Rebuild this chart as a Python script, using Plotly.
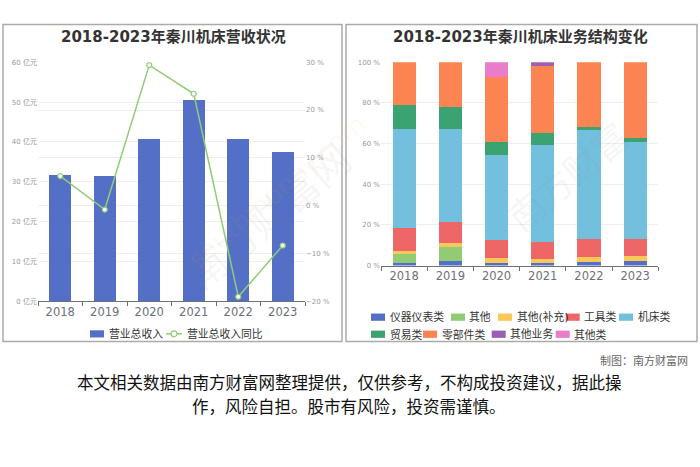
import plotly.graph_objects as go

# Datos
anios = ['2018', '2019', '2020', '2021', '2022', '2023']
ingresos = [31.7, 31.5, 40.8, 50.4, 40.8, 37.5]          # 亿元
ingresos_yoy = [6.2, -0.8, 29.4, 23.4, -19.0, -8.3]      # %

nombres_segmentos = ['仪器仪表类', '其他', '其他(补充)', '工具类', '机床类',
                     '贸易类', '零部件类', '其他业务', '其他类']
seg_instrumentos = [1.2, 2.1, 1.4, 1.5, 2.0, 2.4]
seg_otros = [4.6, 7.1, None, None, None, None]
seg_otros_sup = [1.6, 2.0, 2.2, 1.7, 2.4, 2.3]
seg_herramientas = [11.2, 10.3, 8.9, 8.2, 8.9, 8.5]
seg_maquinas = [48.4, 45.7, 42.0, 48.1, 53.4, 47.7]
seg_comercio = [11.8, 10.6, 6.1, 5.5, 1.5, 1.8]
seg_piezas = [21.2, 22.2, 32.2, 32.9, 31.8, 37.3]
seg_otros_negocios = [None, None, None, 2.1, None, None]
seg_otras_clases = [None, None, 7.2, None, None, None]
segmentos = [seg_instrumentos, seg_otros, seg_otros_sup, seg_herramientas, seg_maquinas,
             seg_comercio, seg_piezas, seg_otros_negocios, seg_otras_clases]

colores = ['#5470c6', '#91cc75', '#fac858', '#ee6666', '#73c0de',
           '#3ba272', '#fc8452', '#9a60b4', '#ea7ccc']

W, H = 700, 467
FUENTE = 'DejaVu Sans, Noto Sans CJK SC, sans-serif'
GRIS_EJE = '#6e7079'
GRIS_GRID = '#eeeeee'


def px(x):
    return x / W


def py(y):
    return 1 - y / H


fig = go.Figure()

# Grafico izquierdo: ingresos
fig.add_trace(go.Bar(
    x=anios, y=ingresos, name='营业总收入', marker=dict(color=colores[0], line=dict(width=0)),
    width=0.5, xaxis='x', yaxis='y', showlegend=False
))
fig.add_trace(go.Scatter(
    x=anios, y=ingresos_yoy, name='营业总收入同比', mode='lines+markers',
    line=dict(color=colores[1], width=1.5),
    marker=dict(symbol='circle', size=5, color='white', line=dict(color=colores[1], width=1.2)),
    xaxis='x', yaxis='y2', showlegend=False
))

# Grafico derecho: estructura
for nombre, valores, color in zip(nombres_segmentos, segmentos, colores):
    fig.add_trace(go.Bar(
        x=anios, y=valores, name=nombre, marker=dict(color=color, line=dict(width=0)),
        width=0.5, xaxis='x2', yaxis='y3', showlegend=False
    ))

ejes_x = dict(
    type='category', showline=True, linecolor=GRIS_EJE, linewidth=1,
    ticks='outside', tickson='boundaries', ticklen=4, tickcolor=GRIS_EJE,
    tickfont=dict(size=11.5, color=GRIS_EJE), showgrid=False, zeroline=False
)
ejes_y = dict(
    showgrid=True, gridcolor=GRIS_GRID, gridwidth=1, zeroline=False,
    tickfont=dict(size=7, color='#999999'), showline=False, ticks=''
)

fig.update_layout(
    width=W, height=H,
    margin=dict(l=0, r=0, t=0, b=0),
    paper_bgcolor='white', plot_bgcolor='rgba(0,0,0,0)',
    font=dict(family=FUENTE, color='#333333'),
    barmode='stack', bargap=0.5,
    showlegend=False,
    xaxis=dict(domain=[px(38), px(305)], anchor='y', **ejes_x),
    yaxis=dict(domain=[py(302.3), py(58.3)], range=[0, 60], dtick=10,
               ticksuffix=' 亿元', anchor='x', **ejes_y),
    yaxis2=dict(overlaying='y', side='right', range=[-20, 30], dtick=10,
                ticksuffix=' %', anchor='x', **ejes_y),
    xaxis2=dict(domain=[px(381), px(658.3)], anchor='y3', **ejes_x),
    yaxis3=dict(domain=[py(265.7), py(58.3)], range=[0, 100], dtick=20,
                ticksuffix=' %', anchor='x2', **ejes_y),
)

formas = []
anotaciones = []

# Marcos de los paneles
for x0, x1 in [(3, 342), (346, 697)]:
    formas.append(dict(type='rect', xref='paper', yref='paper',
                       x0=px(x0), x1=px(x1), y0=py(343), y1=py(20),
                       line=dict(color='#aaaaaa', width=1.5), fillcolor='rgba(0,0,0,0)'))

# Titulos
for texto, xc in [('2018-2023年秦川机床营收状况', 173.5), ('2018-2023年秦川机床业务结构变化', 520)]:
    anotaciones.append(dict(text='<b>' + texto + '</b>', x=px(xc), y=py(33), xref='paper', yref='paper',
                            showarrow=False, xanchor='center', yanchor='middle',
                            font=dict(size=15, color='#333333')))

# Leyenda izquierda
formas.append(dict(type='rect', xref='paper', yref='paper', x0=px(90), x1=px(104),
                   y0=py(339), y1=py(331.7), line=dict(width=0), fillcolor=colores[0]))
anotaciones.append(dict(text='营业总收入', x=px(107), y=py(335.5), xref='paper', yref='paper',
                        showarrow=False, xanchor='left', yanchor='middle',
                        font=dict(size=10.8, color='#333333')))
formas.append(dict(type='line', xref='paper', yref='paper', x0=px(166), x1=px(182),
                   y0=py(335.3), y1=py(335.3), line=dict(color=colores[1], width=1.5)))
formas.append(dict(type='circle', xref='paper', yref='paper', x0=px(171), x1=px(177),
                   y0=py(338.3), y1=py(332.3), line=dict(color=colores[1], width=1.2), fillcolor='white'))
anotaciones.append(dict(text='营业总收入同比', x=px(185), y=py(335.5), xref='paper', yref='paper',
                        showarrow=False, xanchor='left', yanchor='middle',
                        font=dict(size=10.8, color='#333333')))

# Leyenda derecha (dos filas)
pos_leyenda = [(371, 318.3), (451, 318.3), (498, 318.3), (565.7, 318.3), (619, 318.3),
               (371, 335.7), (423, 335.7), (491.7, 335.7), (555.7, 335.7)]
for nombre, color, (lx, ly) in zip(nombres_segmentos, colores, pos_leyenda):
    formas.append(dict(type='rect', xref='paper', yref='paper', x0=px(lx), x1=px(lx + 14),
                       y0=py(ly + 3.7), y1=py(ly - 3.7), line=dict(width=0), fillcolor=color))
    anotaciones.append(dict(text=nombre, x=px(lx + 16.5), y=py(ly + 0.3), xref='paper', yref='paper',
                            showarrow=False, xanchor='left', yanchor='middle',
                            font=dict(size=10.8, color='#333333')))

# Marcas de agua suaves
for texto, xc, yc, ang, tam, col in [
    ('南方财富网', 175, 130, -40, 40, 'rgba(120,120,120,0.08)'),
    ('southmoney.com', 180, 190, -40, 26, 'rgba(250,170,60,0.08)'),
    ('南方财富', 640, 110, -40, 36, 'rgba(120,120,120,0.08)'),
]:
    anotaciones.append(dict(text=texto, x=px(xc), y=py(yc), xref='paper', yref='paper',
                            showarrow=False, textangle=ang, font=dict(size=tam, color=col)))

# Pie
anotaciones.append(dict(text='制图：南方财富网', x=px(690), y=py(363), xref='paper', yref='paper',
                        showarrow=False, xanchor='right', yanchor='middle',
                        font=dict(size=11, color='#666666')))
for linea, yl in [('本文相关数据由南方财富网整理提供，仅供参考，不构成投资建议，据此操', 384.5),
                  ('作，风险自担。股市有风险，投资需谨慎。', 409)]:
    anotaciones.append(dict(text=linea, x=px(349), y=py(yl), xref='paper', yref='paper',
                            showarrow=False, xanchor='center', yanchor='middle',
                            font=dict(size=16.5, color='#111111', family='Noto Sans CJK SC')))

fig.update_layout(shapes=formas, annotations=anotaciones)

fig.write_html('out.html', config={'displayModeBar': False},
               post_script="document.body.style.margin='0';document.body.style.overflow='hidden';")
